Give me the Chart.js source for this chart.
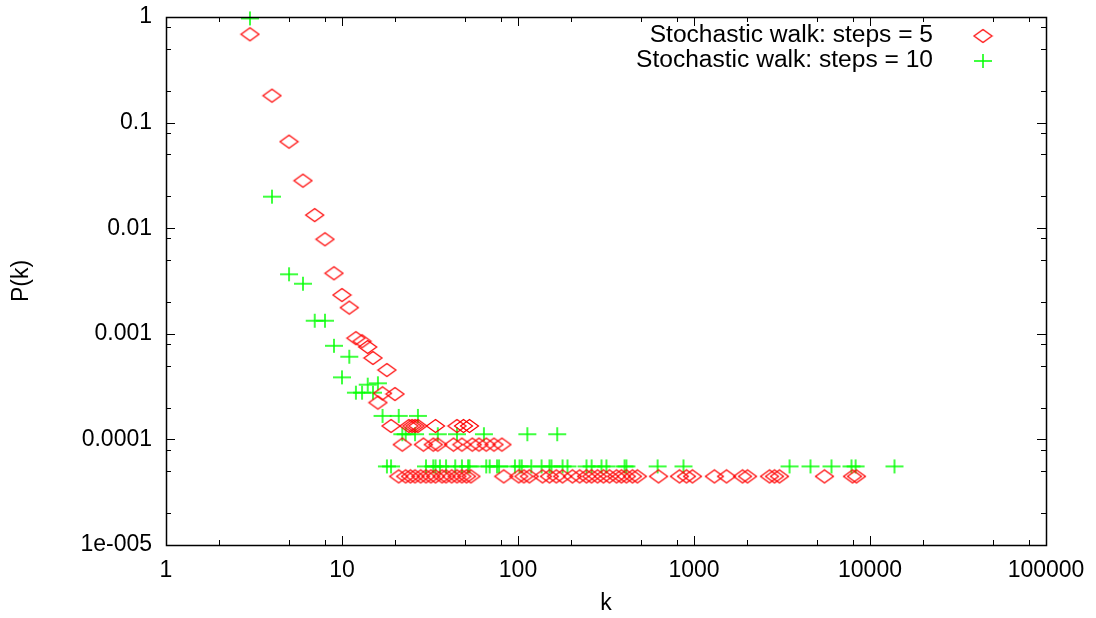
<!DOCTYPE html>
<html>
<head>
<meta charset="utf-8">
<script src="https://cdn.jsdelivr.net/npm/chart.js@4/dist/chart.umd.min.js"></script>
<style>
html,body{margin:0;padding:0;background:#fff;}
#wrap{width:1096px;height:618px;position:relative;}
</style>
</head>
<body>
<div id="wrap"><canvas id="c" width="1096" height="618"></canvas></div>
<script>
// ---- data ----
const seriesNames = ["Stochastic walk: steps = 5", "Stochastic walk: steps = 10"];

const steps5K = [3,4,5,6,7,8,9,10,11,12,13,14,15,16,17,18,20,
  19,24,25,26,27,34,45,49,53,
  22,29,33,35,43,48,55,60,66,73,81,
  21,23,24.5,26,28,30,32,34,37,39,42,45,48,51,54,83,101,108,116,138,151,165,179,204,224,245,262,283,306,331,363,387,413,447,477,629,827,906,980,1306,1530,1887,2015,2687,2867,3060,5510,7960,8380];
const steps5P = [0.686,0.18,0.066,0.0282,0.0133,0.00785,0.00374,0.00233,0.00177,0.00091,0.00085,0.00075,0.00059,0.000223,0.000273,0.000454,0.000269,
  0.000134,0.000134,0.000134,0.000134,0.000134,0.000134,0.000134,0.000134,0.000134,
  0.0000893,0.0000893,0.0000893,0.0000893,0.0000893,0.0000893,0.0000893,0.0000893,0.0000893,0.0000893,0.0000893,
  0.0000446,0.0000446,0.0000446,0.0000446,0.0000446,0.0000446,0.0000446,0.0000446,0.0000446,0.0000446,0.0000446,0.0000446,0.0000446,0.0000446,0.0000446,0.0000446,0.0000446,0.0000446,0.0000446,0.0000446,0.0000446,0.0000446,0.0000446,0.0000446,0.0000446,0.0000446,0.0000446,0.0000446,0.0000446,0.0000446,0.0000446,0.0000446,0.0000446,0.0000446,0.0000446,0.0000446,0.0000446,0.0000446,0.0000446,0.0000446,0.0000446,0.0000446,0.0000446,0.0000446,0.0000446,0.0000446,0.0000446,0.0000446,0.0000446,0.0000446];

const steps10K = [3,4,5,6,7,8,9,10,11,12,13,14,15,16,17,21,27,
  22,23,26,35,45,64,113,167,
  18,19,30,33,34,36,39,44,48,52,53,66,69,76,78,96,102,105,119,136,151,155,179,191,245,262,298,318,403,413,621,871,3490,4590,6040,7850,8280,13770];
const steps10P = [0.97,0.0199,0.00366,0.00298,0.00133,0.00133,0.00077,0.000387,0.000607,0.000277,0.000277,0.00033,0.000277,0.00034,0.000167,0.000167,0.000167,
  0.000112,0.000112,0.000112,0.000112,0.000112,0.000112,0.000112,0.000112,
  0.0000555,0.0000555,0.0000555,0.0000555,0.0000555,0.0000555,0.0000555,0.0000555,0.0000555,0.0000555,0.0000555,0.0000555,0.0000555,0.0000555,0.0000555,0.0000555,0.0000555,0.0000555,0.0000555,0.0000555,0.0000555,0.0000555,0.0000555,0.0000555,0.0000555,0.0000555,0.0000555,0.0000555,0.0000555,0.0000555,0.0000555,0.0000555,0.0000555,0.0000555,0.0000555,0.0000555,0.0000555,0.0000555];

const xTickValues = [1,10,100,1000,10000,100000];
const xTickLabels = ["1","10","100","1000","10000","100000"];
const yTickValues = [1,0.1,0.01,0.001,0.0001,0.00001];
const yTickLabels = ["1","0.1","0.01","0.001","0.0001","1e-005"];
const minorMult = [2,5,8];
const xTitle = "k";
const yTitle = "P(k)";

// ---- marker images ----
function diamondImg(){
  const c=document.createElement('canvas'); c.width=21; c.height=16;
  const g=c.getContext('2d'); g.strokeStyle='#ff0000'; g.lineWidth=1.2;
  g.beginPath(); g.moveTo(10.5,1.5); g.lineTo(19.5,8); g.lineTo(10.5,14.5); g.lineTo(1.5,8); g.closePath(); g.stroke();
  return c;
}
function plusImg(){
  const c=document.createElement('canvas'); c.width=20; c.height=16;
  const g=c.getContext('2d'); g.strokeStyle='#00ff00'; g.lineWidth=1.5;
  g.beginPath(); g.moveTo(1,8); g.lineTo(19,8); g.moveTo(10,1); g.lineTo(10,15); g.stroke();
  return c;
}
const dImg=diamondImg(), pImg=plusImg();

const toPts=(ks,ps)=>ks.map((k,i)=>({x:k,y:ps[i]}));
const FONT='"Liberation Sans", Arial, sans-serif';

const framePlugin={
  id:'frame',
  afterDraw(chart){
    const ctx=chart.ctx, a=chart.chartArea, xs=chart.scales.x, ys=chart.scales.y;
    ctx.save();
    ctx.strokeStyle='#000'; ctx.lineWidth=1.5;
    ctx.strokeRect(a.left+0.5,a.top+0.5,a.right-a.left,a.bottom-a.top);
    ctx.lineWidth=1;
    ctx.beginPath();
    xTickValues.forEach((v,i)=>{
      const mults=[1].concat(i<xTickValues.length-1?minorMult:[]);
      mults.forEach(m=>{
        const px=Math.round(xs.getPixelForValue(v*m))+0.5;
        const len=m===1?9:5;
        ctx.moveTo(px,a.bottom); ctx.lineTo(px,a.bottom-len);
        ctx.moveTo(px,a.top); ctx.lineTo(px,a.top+len);
      });
    });
    yTickValues.forEach((v,i)=>{
      const mults=[1].concat(i>0?minorMult:[]);
      mults.forEach(m=>{
        const val=m===1?v:v*m;
        const py=Math.round(ys.getPixelForValue(val))+0.5;
        const len=m===1?9:5;
        ctx.moveTo(a.left,py); ctx.lineTo(a.left+len,py);
        ctx.moveTo(a.right,py); ctx.lineTo(a.right-len,py);
      });
    });
    ctx.stroke();
    // axis titles
    ctx.fillStyle='#000'; ctx.font='23px '+FONT;
    ctx.textAlign='center'; ctx.textBaseline='middle';
    ctx.fillText(xTitle,(a.left+a.right)/2,604);
    ctx.save(); ctx.translate(22,(a.top+a.bottom)/2); ctx.rotate(-Math.PI/2);
    ctx.fillText(yTitle,0,0); ctx.restore();
    // legend
    ctx.textAlign='right'; ctx.textBaseline='middle';
    const imgs=[dImg,pImg];
    seriesNames.forEach((n,i)=>{
      const y=36+i*25;
      ctx.save(); ctx.translate(933,y); ctx.scale(1.068,1);
      ctx.fillText(n,0,0); ctx.restore();
      ctx.drawImage(imgs[i],983-imgs[i].width/2,y-imgs[i].height/2);
    });
    ctx.restore();
  }
};

new Chart(document.getElementById('c'),{
  type:'scatter',
  data:{datasets:[
    {label:seriesNames[0],data:toPts(steps5K,steps5P),pointStyle:dImg,pointRadius:5,clip:false,showLine:false},
    {label:seriesNames[1],data:toPts(steps10K,steps10P),pointStyle:pImg,pointRadius:5,clip:false,showLine:false}
  ]},
  options:{
    responsive:false,animation:false,
    layout:{padding:{top:17,right:50,left:0,bottom:0}},
    plugins:{legend:{display:false},tooltip:{enabled:false}},
    scales:{
      x:{type:'logarithmic',min:1,max:100000,
        grid:{display:false,drawTicks:false},border:{display:false},
        afterBuildTicks(s){s.ticks=xTickValues.map(v=>({value:v}));},
        afterFit(s){s.height=73;s.paddingLeft=0;s.paddingRight=0;},
        ticks:{padding:12,color:'#000',font:{family:FONT,size:23},maxRotation:0,autoSkip:false,
          callback:(v,i)=>xTickLabels[i]}
      },
      y:{type:'logarithmic',min:0.00001,max:1,
        grid:{display:false,drawTicks:false},border:{display:false},
        afterBuildTicks(s){s.ticks=yTickValues.slice().reverse().map(v=>({value:v}));},
        afterFit(s){s.width=166;s.paddingTop=0;s.paddingBottom=0;},
        ticks:{padding:14,color:'#000',font:{family:FONT,size:23},autoSkip:false,
          callback:(v,i)=>yTickLabels[yTickLabels.length-1-i]}
      }
    }
  },
  plugins:[framePlugin]
});
</script>
</body>
</html>
